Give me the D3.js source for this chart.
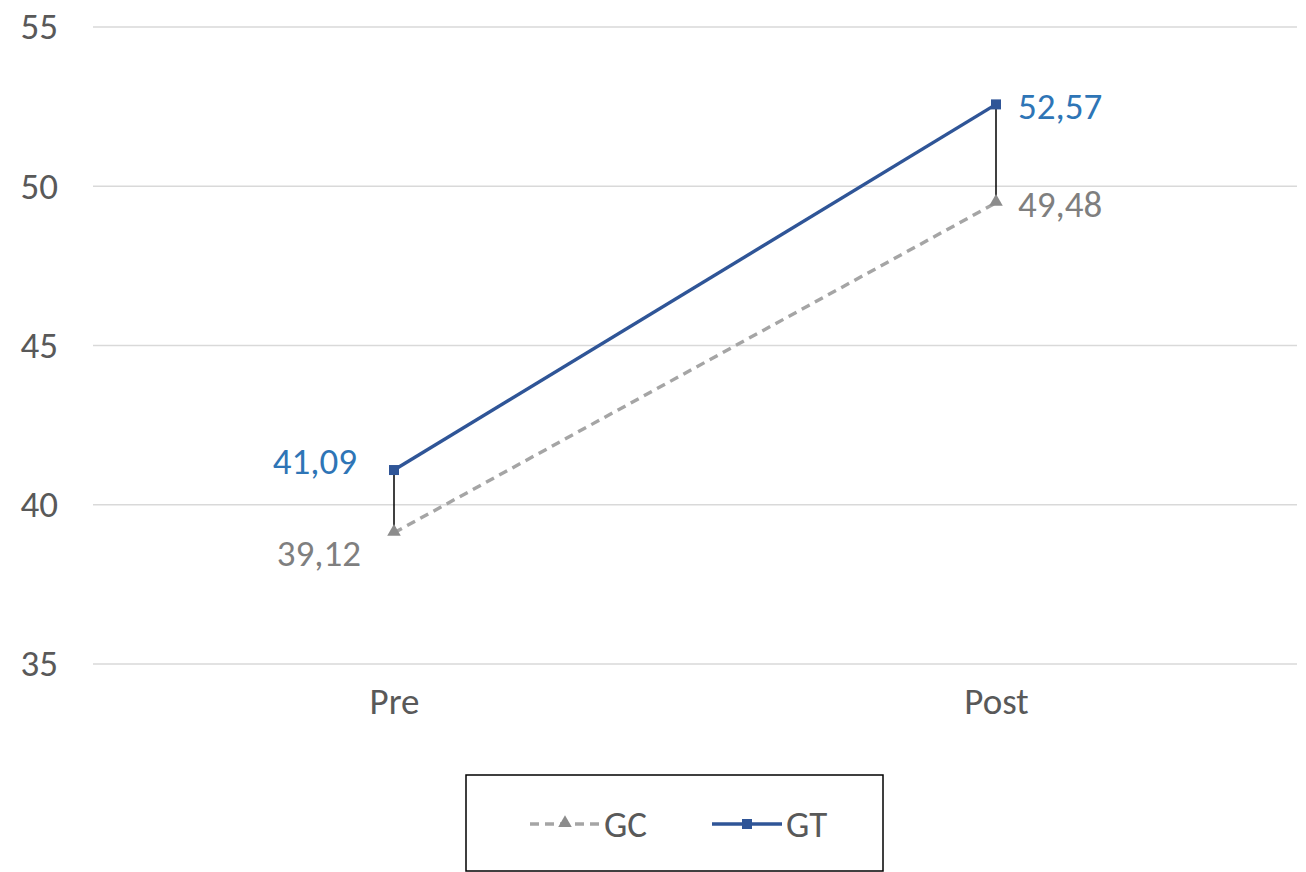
<!DOCTYPE html>
<html>
<head>
<meta charset="utf-8">
<script src="https://cdn.jsdelivr.net/npm/d3@7"></script>
<style>
  body { margin: 0; background: #fff; }
  svg { font-family: Carlito, "Liberation Sans", "Open Sans", sans-serif; }
</style>
</head>
<body>
<script>
// data
const kategorier = ["Pre", "Post"];
const gcVaerdier = [39.12, 49.48];
const gtVaerdier = [41.09, 52.57];
const yTicks = [35, 40, 45, 50, 55];

const bredde = 1306, hoejde = 872;
const margin = { top: 27, right: 9, bottom: 208, left: 93 };
const fontStr = 37;

const svg = d3.select("body").append("svg")
  .attr("width", bredde).attr("height", hoejde);

const x = d3.scalePoint()
  .domain(kategorier)
  .range([margin.left, bredde - margin.right])
  .padding(0.5);

const y = d3.scaleLinear()
  .domain([35, 55])
  .range([hoejde - margin.bottom, margin.top]);

// gitterlinjer
svg.append("g")
  .selectAll("line")
  .data(yTicks)
  .enter().append("line")
  .attr("x1", margin.left).attr("x2", bredde - margin.right)
  .attr("y1", d => y(d)).attr("y2", d => y(d))
  .attr("stroke", "#d9d9d9").attr("stroke-width", 1.3);

// y-akse
const yAkse = svg.append("g")
  .attr("transform", `translate(${margin.left - 35},0)`)
  .call(d3.axisLeft(y).tickValues(yTicks).tickSize(0).tickPadding(0));
yAkse.select(".domain").remove();
yAkse.selectAll("text")
  .attr("font-size", fontStr).attr("fill", "#595959")
  .attr("font-family", "Carlito, 'Liberation Sans', sans-serif");

// x-akse
const xAkse = svg.append("g")
  .attr("transform", `translate(0,${hoejde - margin.bottom + 24})`)
  .call(d3.axisBottom(x).tickSize(0).tickPadding(0));
xAkse.select(".domain").remove();
xAkse.selectAll("text")
  .attr("font-size", fontStr).attr("fill", "#595959")
  .attr("font-family", "Carlito, 'Liberation Sans', sans-serif");

// lodrette forbindelseslinjer
svg.append("g")
  .selectAll("line")
  .data(kategorier)
  .enter().append("line")
  .attr("x1", d => x(d)).attr("x2", d => x(d))
  .attr("y1", (d, i) => y(gtVaerdier[i]))
  .attr("y2", (d, i) => y(gcVaerdier[i]))
  .attr("stroke", "#000").attr("stroke-width", 1.5);

const linje = d3.line()
  .x((d, i) => x(kategorier[i]))
  .y(d => y(d));

// GC linje
svg.append("path")
  .datum(gcVaerdier)
  .attr("d", linje)
  .attr("fill", "none")
  .attr("stroke", "#a5a5a5")
  .attr("stroke-width", 3.4)
  .attr("stroke-dasharray", "9,6");

// GT linje
svg.append("path")
  .datum(gtVaerdier)
  .attr("d", linje)
  .attr("fill", "none")
  .attr("stroke", "#2f5597")
  .attr("stroke-width", 3.4);

// markører
const trekant = d3.symbol().type(d3.symbolTriangle).size(80);
svg.append("g")
  .selectAll("path")
  .data(gcVaerdier)
  .enter().append("path")
  .attr("d", trekant)
  .attr("transform", (d, i) => `translate(${x(kategorier[i])},${y(d) - 1})`)
  .attr("fill", "#8c8c8c");

svg.append("g")
  .selectAll("rect")
  .data(gtVaerdier)
  .enter().append("rect")
  .attr("x", (d, i) => x(kategorier[i]) - 5)
  .attr("y", d => y(d) - 5)
  .attr("width", 10).attr("height", 10)
  .attr("fill", "#2f5597");

// datalabels
const fmt = v => v.toFixed(2).replace(".", ",");
svg.append("g")
  .selectAll("text")
  .data(gtVaerdier)
  .enter().append("text")
  .attr("x", (d, i) => i === 0 ? x(kategorier[i]) - 37 : x(kategorier[i]) + 22)
  .attr("y", (d, i) => i === 0 ? y(d) - 9 : y(d) + 2)
  .attr("dy", "0.35em")
  .attr("text-anchor", (d, i) => i === 0 ? "end" : "start")
  .attr("font-size", fontStr)
  .attr("fill", "#2e75b6")
  .text(fmt);

svg.append("g")
  .selectAll("text")
  .data(gcVaerdier)
  .enter().append("text")
  .attr("x", (d, i) => i === 0 ? x(kategorier[i]) - 33 : x(kategorier[i]) + 22)
  .attr("y", (d, i) => i === 0 ? y(d) + 20 : y(d) + 1)
  .attr("dy", "0.35em")
  .attr("text-anchor", (d, i) => i === 0 ? "end" : "start")
  .attr("font-size", fontStr)
  .attr("fill", "#7f7f7f")
  .text(fmt);

// legende
const leg = svg.append("g");
leg.append("rect")
  .attr("x", 466).attr("y", 775)
  .attr("width", 417).attr("height", 96)
  .attr("fill", "#fff").attr("stroke", "#000").attr("stroke-width", 1.5);

const legY = 824;
leg.append("line")
  .attr("x1", 530).attr("x2", 600).attr("y1", legY).attr("y2", legY)
  .attr("stroke", "#a5a5a5").attr("stroke-width", 3.4).attr("stroke-dasharray", "9,6");
leg.append("path")
  .attr("d", trekant)
  .attr("transform", `translate(565,${legY - 1})`)
  .attr("fill", "#8c8c8c");
leg.append("text")
  .attr("x", 604).attr("y", legY).attr("dy", "0.35em")
  .attr("font-size", fontStr).attr("fill", "#595959").text("GC");

leg.append("line")
  .attr("x1", 712).attr("x2", 782).attr("y1", legY).attr("y2", legY)
  .attr("stroke", "#2f5597").attr("stroke-width", 3.4);
leg.append("rect")
  .attr("x", 742).attr("y", legY - 5).attr("width", 10).attr("height", 10)
  .attr("fill", "#2f5597");
leg.append("text")
  .attr("x", 786).attr("y", legY).attr("dy", "0.35em")
  .attr("font-size", fontStr).attr("fill", "#595959").text("GT");
</script>
</body>
</html>
